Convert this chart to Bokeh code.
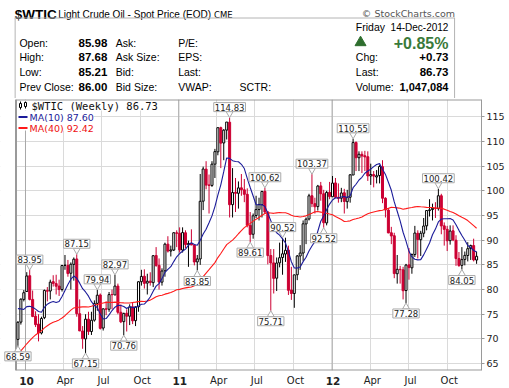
import pandas as pd
from bokeh.plotting import figure
from bokeh.layouts import column
from bokeh.models import Range1d, FixedTicker, Label, Span, ColumnDataSource, Grid
from bokeh.embed import file_html
from bokeh.resources import INLINE
from bokeh.core.properties import value

# ---------------- data (weekly candles, week starting Monday) ----------------
first_week_start = "2009-12-14"

opens = [69.90, 73.40, 78.00, 79.60, 82.80, 78.00, 74.60, 73.00, 71.20, 74.30,
         79.80, 79.70, 81.60, 81.20, 80.70, 80.00, 84.90, 84.90, 83.30, 85.10,
         86.20, 75.10, 71.60, 70.00, 74.00, 71.50, 73.80, 77.20, 78.90, 72.20,
         76.10, 76.00, 79.00, 78.90, 80.70, 75.40, 73.50, 75.20, 74.60, 76.50,
         73.70, 76.50, 81.60, 82.70, 81.30, 81.70, 81.40, 86.90, 84.90, 81.50,
         83.80, 89.20, 87.80, 88.00, 91.50, 91.40, 88.00, 91.50, 89.10, 89.30,
         89.00, 85.60, 86.20, 97.90, 104.40, 101.20, 101.10, 105.40, 107.90, 112.80,
         109.70, 112.30, 113.90, 97.20, 99.70, 99.50, 100.60, 100.20, 99.30, 93.00,
         91.20, 95.00, 96.20, 97.20, 99.90, 95.70, 86.90, 85.40, 82.30, 85.40,
         86.50, 87.20, 88.00, 79.90, 79.20, 83.00, 86.80, 87.40, 93.30, 94.30,
         99.00, 97.40, 96.80, 101.00, 99.40, 93.50, 99.70, 98.80, 101.60, 98.70,
         98.50, 99.60, 97.80, 98.70, 103.20, 109.80, 106.70, 107.40, 107.10, 106.90,
         103.00, 103.30, 102.80, 103.10, 104.90, 98.50, 96.10, 91.50, 90.90, 83.20,
         84.10, 84.00, 79.80, 85.00, 84.40, 87.10, 91.40, 90.10, 91.40, 92.90,
         96.00, 96.20, 96.50, 96.40, 99.00, 92.90, 92.20, 89.90, 91.90, 90.00,
         86.30, 84.90, 86.10, 86.90, 88.30, 88.90, 85.98]

highs = [73.60, 78.20, 79.90, 83.52, 83.95, 79.80, 75.60, 75.00, 74.50, 80.00,
         80.50, 82.00, 82.90, 83.00, 82.00, 85.00, 87.00, 86.00, 85.50, 86.50,
         87.15, 78.00, 72.60, 75.00, 75.50, 75.50, 77.80, 79.94, 79.20, 76.20,
         77.60, 79.50, 80.00, 82.97, 81.20, 77.00, 75.30, 76.00, 77.00, 77.40,
         76.60, 81.70, 84.00, 84.10, 83.20, 83.50, 87.00, 88.60, 86.30, 84.30,
         89.50, 90.80, 88.90, 91.60, 92.00, 92.60, 92.60, 92.00, 89.90, 92.20,
         89.10, 87.00, 103.41, 104.90, 106.00, 103.30, 106.00, 108.50, 112.80, 113.00,
         112.50, 113.93, 114.83, 104.60, 102.60, 101.90, 103.40, 102.40, 100.50, 95.70,
         95.40, 99.00, 98.60, 100.00, 100.62, 95.90, 88.20, 88.20, 86.50, 89.50,
         90.52, 90.50, 88.90, 84.60, 83.00, 87.00, 89.00, 94.00, 94.60, 99.40,
         103.37, 98.60, 101.20, 101.80, 100.20, 100.00, 101.80, 103.00, 102.60, 101.50,
         100.60, 100.40, 100.20, 103.40, 110.55, 110.00, 108.00, 108.00, 108.10, 108.00,
         105.50, 104.00, 104.20, 105.20, 106.20, 98.70, 96.30, 92.70, 91.50, 87.00,
         84.80, 84.60, 85.20, 88.40, 87.30, 92.90, 92.00, 91.90, 94.50, 96.00,
         98.30, 97.40, 97.70, 100.42, 99.40, 93.60, 92.90, 93.00, 93.00, 91.00,
         87.60, 88.60, 87.70, 89.60, 89.10, 90.30, 87.68]

lows = [68.59, 72.90, 77.60, 79.60, 77.80, 74.40, 72.40, 69.50, 70.90, 74.00,
        77.60, 78.00, 80.60, 79.00, 78.70, 79.60, 84.00, 82.60, 80.00, 81.80,
        74.50, 71.60, 68.00, 67.15, 70.80, 70.80, 73.50, 75.70, 71.90, 71.70,
        74.80, 75.50, 76.00, 78.90, 75.00, 73.20, 70.76, 71.50, 72.80, 73.00,
        72.60, 75.50, 80.80, 80.20, 79.00, 80.80, 80.50, 84.60, 80.00, 80.80,
        82.60, 87.50, 86.70, 87.80, 88.60, 87.50, 87.50, 88.40, 84.60, 89.00,
        84.90, 83.85, 85.00, 96.10, 100.30, 95.40, 100.80, 102.60, 107.20, 104.60,
        106.20, 110.40, 94.60, 94.60, 95.70, 96.40, 99.00, 97.70, 92.60, 89.61,
        90.30, 94.50, 94.00, 94.60, 95.30, 85.10, 75.71, 79.20, 79.70, 84.50,
        83.00, 85.60, 78.90, 77.90, 76.30, 81.90, 84.00, 85.80, 89.20, 94.00,
        96.70, 95.40, 96.00, 98.00, 92.52, 93.00, 98.30, 98.80, 98.50, 97.60,
        97.70, 95.40, 96.40, 97.60, 103.20, 104.00, 104.00, 103.60, 104.00, 102.00,
        101.20, 100.70, 101.50, 101.50, 97.50, 94.60, 91.40, 89.20, 82.30, 81.20,
        81.20, 78.00, 77.28, 82.00, 83.20, 86.60, 86.30, 86.80, 90.60, 92.00,
        94.80, 94.00, 94.50, 96.00, 91.20, 88.90, 87.80, 89.10, 89.80, 84.80,
        84.60, 84.05, 84.90, 85.70, 86.00, 85.70, 85.21]

closes = [73.36, 78.05, 79.36, 82.75, 78.00, 74.54, 72.89, 71.19, 74.13, 79.81,
          79.66, 81.50, 81.24, 80.68, 80.00, 84.87, 84.92, 83.24, 85.12, 86.15,
          75.11, 71.61, 70.04, 74.00, 71.51, 73.78, 77.18, 78.86, 72.14, 76.09,
          76.01, 78.98, 78.95, 80.70, 75.39, 73.46, 75.17, 74.60, 76.45, 73.66,
          76.49, 81.58, 82.66, 81.25, 81.69, 81.43, 86.85, 84.88, 81.51, 83.76,
          89.19, 87.79, 88.02, 91.51, 91.38, 88.03, 91.54, 89.11, 89.34, 89.03,
          85.58, 86.20, 97.88, 104.42, 101.16, 101.07, 105.40, 107.94, 112.79, 109.66,
          112.29, 113.93, 97.18, 99.65, 99.49, 100.59, 100.22, 99.29, 93.01, 91.16,
          94.94, 96.20, 97.24, 99.87, 95.70, 86.88, 85.38, 82.26, 85.37, 86.45,
          87.24, 87.96, 79.85, 79.20, 82.98, 86.80, 87.40, 93.32, 94.26, 98.99,
          97.41, 96.77, 100.96, 99.41, 93.53, 99.68, 98.83, 101.56, 98.70, 98.46,
          99.56, 97.84, 98.67, 103.24, 109.77, 106.70, 107.40, 107.06, 106.87, 103.02,
          103.31, 102.98, 103.05, 104.93, 98.49, 96.13, 91.48, 90.86, 83.23, 84.10,
          84.03, 79.76, 84.96, 84.45, 87.10, 91.44, 90.13, 91.40, 92.87, 96.01,
          96.15, 96.47, 96.42, 99.00, 92.89, 92.19, 89.88, 91.86, 90.05, 86.28,
          84.86, 86.07, 86.92, 88.28, 88.91, 86.00, 86.73]

# weekly closes before the first visible candle (needed by the moving averages)
prior_closes = [51.06, 52.38, 52.51, 52.24, 50.33, 51.55, 53.20, 58.63, 56.34, 61.67,
                66.31, 68.44, 72.04, 69.55, 69.16, 66.73, 59.89, 63.56, 68.05, 69.45,
                70.93, 67.51, 73.89, 72.74, 68.02, 69.29, 72.04, 66.02, 69.95, 71.77,
                78.53, 80.50, 77.00, 77.43, 76.35, 76.72, 76.05, 75.47, 69.87]

peak_values = [83.95, 87.15, 79.94, 82.97, 114.83, 100.62, 90.52, 103.37, 110.55, 100.42]
trough_values = [68.59, 67.15, 70.76, 83.85, 89.61, 75.71, 92.52, 77.28, 84.05]

y_ticks = [65, 70, 75, 80, 85, 90, 95, 100, 105, 110, 115]
quarter_dates = ["2010-01-01", "2010-04-01", "2010-07-01", "2010-10-01",
                 "2011-01-01", "2011-04-01", "2011-07-01", "2011-10-01",
                 "2012-01-01", "2012-04-01", "2012-07-01", "2012-10-01"]
quarter_labels = ["10", "Apr", "Jul", "Oct", "11", "Apr", "Jul", "Oct", "12", "Apr", "Jul", "Oct"]

symbol = "$WTIC"
name = "Light Crude Oil - Spot Price (EOD)"
exchange = "CME"
day_text = "Friday"
date_text = "14-Dec-2012"
volume_text = "1,047,084"

# ---------------- derived ----------------
base = pd.Timestamp("2010-01-01")
weeks = pd.date_range(first_week_start, periods=len(closes), freq="7D")
xd = [float((d - base).days) for d in weeks]
qx = [float((pd.Timestamp(d) - base).days) for d in quarter_dates]

allc = prior_closes + closes
n = len(closes)
ma10 = [sum(allc[i + 30:i + 40]) / 10 for i in range(n)]
ma40 = [sum(allc[i:i + 40]) / 40 for i in range(n)]
prev = [prior_closes[-1]] + closes[:-1]

RED = "#cc0033"
cols = [RED if c < pc else "#000000" for c, pc in zip(closes, prev)]
fills = ["#ffffff" if c > o else col for o, c, col in zip(opens, closes, cols)]
src = ColumnDataSource(dict(
    x=xd, high=highs, low=lows,
    top=[max(o, c) for o, c in zip(opens, closes)],
    bottom=[min(o, c) for o, c in zip(opens, closes)],
    color=cols, fill=fills, ma10=ma10, ma40=ma40))

FONT = "Liberation Sans"
SANS = "DejaVu Sans"
W = 509
HDR_H = 98
CH_H = 274
FT_H = 16
BL, BR = 15, 28          # visible plot box: x 15 .. 481
RIGHT = W - BR
GRAY = "#9a9a9a"

# ---------------- header ----------------
hdr = figure(width=W, height=HDR_H, x_range=Range1d(0, W), y_range=Range1d(HDR_H, 0),
             x_axis_location=None, y_axis_location=None, toolbar_location=None,
             output_backend="svg", min_border=0, outline_line_color=None)
hdr.grid.visible = False


def htext(x, y, s, size="11px", bold=False, align="left", color="#000000", font=FONT,
          baseline="middle"):
    hdr.text(x=[x], y=[y], text=[s], text_font=value(font), text_font_size=size,
             text_font_style="bold" if bold else "normal", text_align=align,
             text_baseline=baseline, text_color=color)


htext(15, 14, symbol, size="13.5px", bold=True, baseline="alphabetic")
htext(61, 14, name, size="10px", baseline="alphabetic")
htext(226, 14, exchange, size="8.5px", font=SANS, baseline="alphabetic")
htext(481, 13, "\u00a9 StockCharts.com", size="9.5px", align="right", color="#555555",
      font=SANS, baseline="alphabetic")

LINE = "#b4b4b4"
hdr.segment(x0=[BL, BL + 0.5, RIGHT - 0.5], y0=[17.5, 17.5, 17.5],
            x1=[RIGHT, BL + 0.5, RIGHT - 0.5], y1=[17.5, HDR_H, HDR_H],
            line_color=LINE, line_width=1)

rows = [42.5, 56.5, 71.5, 86.5]
last_close = closes[-1]
prev_close = closes[-2]
chg = last_close - prev_close
pct = chg / prev_close * 100

left_labels = ["Open:", "High:", "Low:", "Prev Close:"]
left_vals = [opens[-1], highs[-1], lows[-1], prev_close]
mid_labels = ["Ask:", "Ask Size:", "Bid:", "Bid Size:"]
third_labels = ["P/E:", "EPS:", "Last:", "VWAP:"]
for yy, a, v, b, c in zip(rows, left_labels, left_vals, mid_labels, third_labels):
    htext(20, yy, a, size="10.5px")
    htext(113, yy, f"{v:.2f}", size="11.5px", bold=True, align="right")
    htext(122, yy, b, size="10.5px")
    htext(188, yy, c, size="10.5px")
htext(253, rows[3], "SCTR:", size="10.5px")

RX = RIGHT - 7
LX = RIGHT - 105
htext(LX, 26.5, day_text, size="10.5px")
htext(RX, 26.5, date_text, size="10px", align="right")
hdr.scatter([LX + 5], [42], marker="triangle", size=11, fill_color="#2e6e2e", line_color="#2e6e2e")
htext(RX, 43, f"{pct:+.2f}%", size="16px", bold=True, align="right", color="#3a7a3a")
htext(LX, rows[1], "Chg:", size="10.5px")
htext(RX, rows[1], f"{chg:+.2f}", size="11.5px", bold=True, align="right")
htext(LX, rows[2], "Last:", size="10.5px")
htext(RX, rows[2], f"{last_close:.2f}", size="11.5px", bold=True, align="right")
htext(LX, rows[3], "Volume:", size="10.5px")
htext(RX, rows[3], volume_text, size="11px", bold=True, align="right")

# ---------------- chart ----------------
# the frame starts at the left page edge so that call-outs may spill left of the box
FW, FH = RIGHT, CH_H - 3
DPP = 1109.5 / 466.0                      # days per pixel
X0 = -23.8 - BL * DPP
X1 = X0 + FW * DPP
Y0, Y1 = 63.6, 118.5
ppu = FH / (Y1 - Y0)


def dx(cx):
    return X0 + cx * DPP


def dy(py):
    return Y1 - py * (Y1 - Y0) / FH


xr = Range1d(X0, X1)
p = figure(width=W, height=CH_H, x_range=xr, y_range=Range1d(Y0, Y1),
           x_axis_location=None, y_axis_location="right", toolbar_location=None,
           output_backend="svg", min_border_left=0, min_border_right=BR,
           min_border_top=1, min_border_bottom=2)
p.outline_line_color = None
p.background_fill_color = "white"
for g in p.xgrid:
    g.visible = False

p.yaxis.ticker = FixedTicker(ticks=y_ticks)
p.yaxis.axis_line_color = GRAY
p.yaxis.major_tick_line_color = GRAY
p.yaxis.major_tick_out = 3
p.yaxis.major_tick_in = 0
p.yaxis.minor_tick_line_color = None
p.yaxis.major_label_standoff = 2
p.yaxis.major_label_text_font = SANS
p.yaxis.major_label_text_font_size = "9.5px"
p.yaxis.major_label_text_color = "#222222"

p.ygrid.grid_line_color = "#dadada"
p.ygrid.ticker = FixedTicker(ticks=y_ticks)
p.add_layout(Grid(dimension=0, ticker=FixedTicker(ticks=qx), grid_line_color="#dadada"))

for t, lab in zip(qx, quarter_labels):
    if lab.isdigit():
        sp = Span(location=t, dimension="height", line_color="#a8a8a8", line_width=1)
        sp.level = "underlay"
        p.add_layout(sp)

# blank strip left of the box, legend background
p.quad(left=[dx(0), dx(BL), dx(BL)], right=[dx(BL), dx(BL + 146), dx(BL + 78)],
       top=[Y1, dy(0), dy(11)], bottom=[Y0, dy(11), dy(31)],
       fill_color="white", line_color=None)
# box border (left, top, bottom)
p.segment(x0=[dx(BL + 0.5), dx(BL), dx(BL)], y0=[Y0, Y1, Y0],
          x1=[dx(BL + 0.5), X1, X1], y1=[Y1, Y1, Y0], line_color=GRAY, line_width=2)

# candles
p.segment(x0="x", y0="low", x1="x", y1="high", line_color="color", line_width=1, source=src)
p.vbar(x="x", width=4.8, top="top", bottom="bottom", fill_color="fill", line_color="color",
       line_width=1, source=src)

# moving averages
p.line(x="x", y="ma40", line_color="#ff1a1a", line_width=1.1, source=src)
p.line(x="x", y="ma10", line_color="#1c1c9a", line_width=1.1, source=src)

# legend
L0 = BL
p.segment(x0=[dx(L0 + 5), dx(L0 + 10)], y0=[dy(10), dy(9)], x1=[dx(L0 + 5), dx(L0 + 10)],
          y1=[dy(2), dy(2)], line_color="black")
p.vbar(x=[dx(L0 + 5), dx(L0 + 10)], width=2 * DPP, top=[dy(4), dy(3)], bottom=[dy(8), dy(7)],
       fill_color="white", line_color="black")
p.text(x=[dx(L0 + 16)], y=[dy(6)], text=[f"{symbol} (Weekly) {last_close:.2f}"],
       text_font=value("DejaVu Sans Mono"), text_font_size="10.5px", text_baseline="middle",
       text_color="#111111")
p.segment(x0=[dx(L0 + 3), dx(L0 + 3)], y0=[dy(17.5), dy(28.5)], x1=[dx(L0 + 12), dx(L0 + 12)],
          y1=[dy(17.5), dy(28.5)], line_color=["#1c1c9a", "#ff1a1a"], line_width=2)
p.text(x=[dx(L0 + 14), dx(L0 + 14)], y=[dy(17.5), dy(28.5)],
       text=[f"MA(10) {ma10[-1]:.2f}", f"MA(40) {ma40[-1]:.2f}"],
       text_font=value(SANS), text_font_size="9.5px", text_baseline="middle",
       text_color=["#1c1c9a", "#ee1111"])


# high / low call-outs
def shift_for(xv):
    cx = (xv - X0) / DPP
    return max(0, 15 - cx)


for v in peak_values:
    i = highs.index(v)
    p.scatter([xd[i]], [v + 4 / ppu], marker="inverted_triangle", size=7,
              fill_color="white", line_color="#aaaaaa")
    p.add_layout(Label(x=xd[i], y=v + 10.5 / ppu, x_offset=shift_for(xd[i]), text=f"{v:.2f}",
                       text_align="center", text_baseline="middle", text_font=SANS,
                       text_font_size="8.5px", text_color="#222222",
                       background_fill_color="white", border_line_color="#aaaaaa", padding=1))
for v in trough_values:
    i = lows.index(v)
    p.scatter([xd[i]], [v - 4 / ppu], marker="triangle", size=7,
              fill_color="white", line_color="#aaaaaa")
    p.add_layout(Label(x=xd[i], y=v - 10.5 / ppu, x_offset=shift_for(xd[i]), text=f"{v:.2f}",
                       text_align="center", text_baseline="middle", text_font=SANS,
                       text_font_size="8.5px", text_color="#222222",
                       background_fill_color="white", border_line_color="#aaaaaa", padding=1))

# ---------------- time labels ----------------
ft = figure(width=W, height=FT_H, x_range=xr, y_range=Range1d(0, FT_H),
            x_axis_location=None, y_axis_location=None, toolbar_location=None,
            output_backend="svg", min_border_left=0, min_border_right=BR,
            min_border_top=0, min_border_bottom=0, outline_line_color=None)
ft.grid.visible = False
mx = [t for t, lab in zip(qx, quarter_labels) if not lab.isdigit()]
ml = [lab for lab in quarter_labels if not lab.isdigit()]
yx = [t for t, lab in zip(qx, quarter_labels) if lab.isdigit()]
yl = [lab for lab in quarter_labels if lab.isdigit()]
ft.text(x=mx, y=[8] * len(mx), text=ml, x_offset=2, text_align="center", text_baseline="middle",
        text_font=value(SANS), text_font_size="10px", text_color="#222222")
ft.text(x=yx, y=[8] * len(yx), text=yl, x_offset=1, text_align="center", text_baseline="middle",
        text_font=value(SANS), text_font_size="10.5px", text_font_style="bold",
        text_color="#222222")

layout = column(hdr, p, ft, spacing=0)
open("out.html", "w").write(file_html(layout, INLINE))
